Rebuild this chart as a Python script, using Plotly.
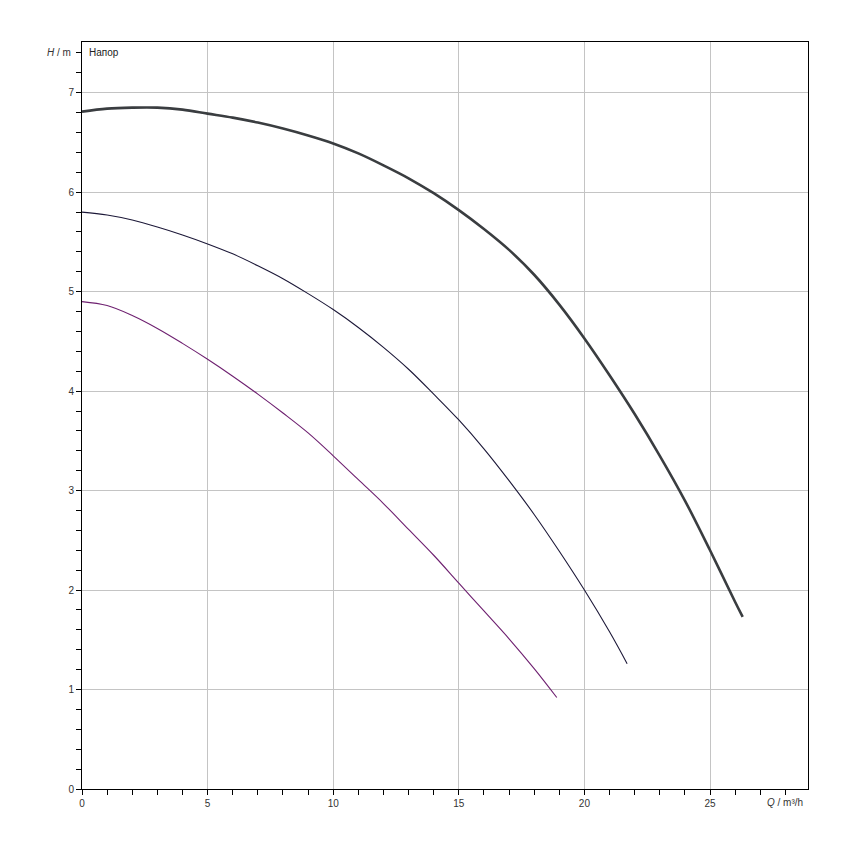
import plotly.graph_objects as go

# Pump curves: Q (m³/h) vs H (m)
q_top = [0, 1, 2, 3, 4, 5, 6, 7, 8, 9, 10, 11, 12, 13, 14, 15, 16, 17, 18, 19, 20, 21, 22, 23, 24, 25, 26, 26.3]
h_top = [6.81, 6.84, 6.85, 6.85, 6.83, 6.79, 6.75, 6.70, 6.64, 6.57, 6.49, 6.39, 6.27, 6.14, 5.99,
         5.82, 5.63, 5.42, 5.17, 4.87, 4.53, 4.16, 3.77, 3.35, 2.90, 2.40, 1.88, 1.73]

q_mid = [0, 1, 2, 3, 4, 5, 6, 7, 8, 9, 10, 11, 12, 13, 14, 15, 16, 17, 18, 19, 20, 21, 21.7]
h_mid = [5.80, 5.77, 5.72, 5.65, 5.57, 5.48, 5.38, 5.26, 5.13, 4.98, 4.82, 4.64, 4.44, 4.22, 3.97,
         3.71, 3.42, 3.10, 2.76, 2.39, 2.00, 1.58, 1.26]

q_low = [0, 1, 2, 3, 4, 5, 6, 7, 8, 9, 10, 11, 12, 13, 14, 15, 16, 17, 18, 18.9]
h_low = [4.90, 4.86, 4.76, 4.63, 4.48, 4.32, 4.15, 3.97, 3.78, 3.58, 3.35, 3.11, 2.87, 2.61, 2.35,
         2.07, 1.79, 1.51, 1.21, 0.92]

x_ticks = [0, 5, 10, 15, 20, 25]
y_ticks = [0, 1, 2, 3, 4, 5, 6, 7]

fig = go.Figure()
fig.add_trace(go.Scatter(x=q_top, y=h_top, mode="lines",
                         line=dict(color="#3a3d40", width=2.6, shape="spline", smoothing=1.0)))
fig.add_trace(go.Scatter(x=q_mid, y=h_mid, mode="lines",
                         line=dict(color="#1c1838", width=1.1, shape="spline", smoothing=1.0)))
fig.add_trace(go.Scatter(x=q_low, y=h_low, mode="lines",
                         line=dict(color="#6e2070", width=1.1, shape="spline", smoothing=1.0)))

axis_common = dict(showline=True, linecolor="black", linewidth=1, mirror=True,
                   ticks="outside", ticklen=5, tickcolor="black",
                   showgrid=True, gridcolor="#c4c4c4", gridwidth=1,
                   zeroline=False, tickfont=dict(size=10, color="#333333"))

fig.update_layout(
    width=850, height=850,
    margin=dict(l=74, r=50, t=34, b=69),
    paper_bgcolor="white", plot_bgcolor="white",
    showlegend=False,
    font=dict(family="Liberation Sans, Arial, sans-serif", size=10, color="#333333"),
    xaxis=dict(range=[0, 28.9], tickvals=x_ticks,
               minor=dict(dtick=1, tick0=0, ticks="outside", ticklen=5, tickcolor="black", showgrid=False),
               **axis_common),
    yaxis=dict(range=[0, 7.51], tickvals=y_ticks,
               minor=dict(dtick=0.2, tick0=0, ticks="outside", ticklen=5, tickcolor="black", showgrid=False),
               **axis_common),
)

fig.add_annotation(x=0, y=7.4, xref="paper", yref="y", text="<i>H</i> / m",
                   showarrow=False, xanchor="right", xshift=-9, font=dict(size=10, color="#333333"))
fig.add_annotation(x=28, y=0, xref="x", yref="paper", text="<i>Q</i> / m³/h",
                   showarrow=False, yanchor="top", yshift=-6, font=dict(size=10, color="#333333"))
fig.add_annotation(x=0, y=7.4, xref="x", yref="y", text="Напор",
                   showarrow=False, xanchor="left", xshift=5, font=dict(size=10, color="#222222"))

fig.write_html("out.html")
